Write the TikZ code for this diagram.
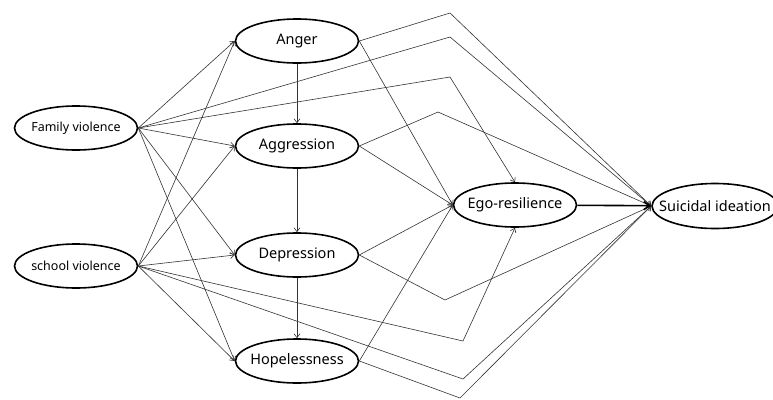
\documentclass[tikz,border=0pt]{standalone}
\usepackage{fontspec}
\setmainfont{Noto Sans}
\usetikzlibrary{arrows.meta,shapes.geometric}

\begin{document}
\begin{tikzpicture}[
  x=1pt,y=-1pt,
  every node/.style={font=\fontsize{14.5}{16}\selectfont},
  var/.style={ellipse,draw=black,line width=1.6pt,minimum width=123pt,minimum height=44pt,inner sep=0pt},
  cause/.style={var,font=\fontsize{12.5}{14}\selectfont},
  edge/.style={-{Straight Barb[length=4pt,width=6pt]},draw=black!80,line width=0.6pt},
  main/.style={-{Straight Barb[length=6pt,width=8pt]},draw=black,line width=1.6pt}
]
\useasboundingbox (0,0) rectangle (773,399);
\clip (0,0) rectangle (773,399);

\node[cause] (fv) at (76,128) {\makebox[0pt]{Family violence}};
\node[cause] (sv) at (76,266) {\makebox[0pt]{school violence}};

\node[var] (anger) at (297,41) {\makebox[0pt]{Anger}};
\node[var] (aggr) at (297,146) {\makebox[0pt]{Aggression}};
\node[var] (depr) at (297,255) {\makebox[0pt]{Depression}};
\node[var] (hope) at (297,361) {\makebox[0pt]{Hopelessness}};

\node[var] (ego) at (515,205) {\makebox[0pt]{Ego-resilience}};
\node[var,minimum width=126pt,minimum height=45pt] (suic) at (715,206) {\makebox[0pt]{Suicidal ideation}};

% bends of the long paths
\coordinate (k1) at (450,13);
\coordinate (k2) at (450,37);
\coordinate (k3) at (450,77);
\coordinate (k4) at (438,112);
\coordinate (k5) at (445,300);
\coordinate (k6) at (463,341);
\coordinate (k7) at (463,379);
\coordinate (k8) at (460,398);

\foreach \t in {anger,aggr,depr,hope} {
  \draw[edge] (fv.east) -- (\t.west);
  \draw[edge] (sv.east) -- (\t.west);
  \draw[edge] (\t.east) -- (ego.west);
}
\draw[edge] (anger) -- (aggr);
\draw[edge] (aggr) -- (depr);
\draw[edge] (depr) -- (hope);

\draw[edge] (anger.east) -- (k1) -- (suic.west);
\draw[edge] (fv.east) -- (k2) -- (suic.west);
\draw[edge] (fv.east) -- (k3) -- (ego.north);
\draw[edge] (aggr.east) -- (k4) -- (suic.west);
\draw[edge] (depr.east) -- (k5) -- (suic.west);
\draw[edge] (sv.east) -- (k6) -- (ego.south);
\draw[edge] (sv.east) -- (k7) -- (suic.west);
\draw[edge] (hope.east) -- (k8) -- (suic.west);

\draw[main] (ego) -- (suic);
\end{tikzpicture}
\end{document}
